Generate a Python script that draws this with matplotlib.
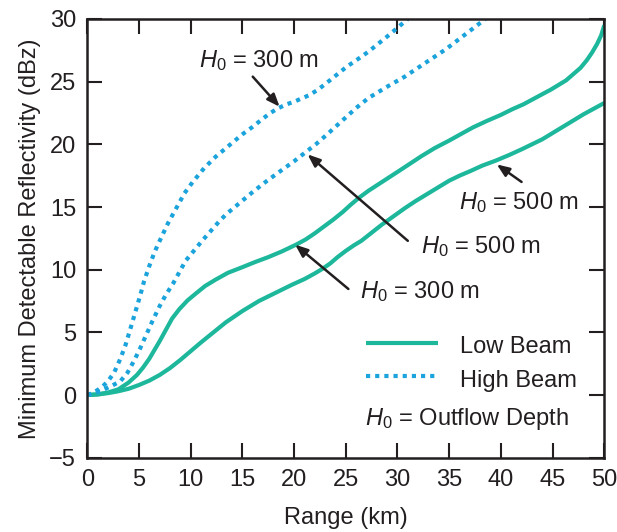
import numpy as np
import matplotlib
matplotlib.use("Agg")
from matplotlib import pyplot as plt

plt.rcParams["font.family"] = ["Liberation Sans", "DejaVu Sans"]
plt.rcParams["mathtext.fontset"] = "custom"
plt.rcParams["mathtext.rm"] = "Liberation Sans"
plt.rcParams["mathtext.it"] = "Liberation Sans:italic"

# low beam, H0 = 300 m (upper solid)
low300_x = [0, 1, 2, 3, 4, 4.8, 5.4, 6, 6.5, 7, 7.6, 8.2, 8.9, 9.7, 10.5, 11.4, 12.4, 13.6,
            15, 16.2, 17.5, 18.8, 20.2, 21.1, 22, 22.9, 23.8, 24.7, 25.5, 26.3, 27.2, 28.6,
            30, 31.2, 32.3, 33.6, 35, 36.2, 37.3, 38.6, 40, 41.1, 42.2, 43.1, 44, 44.8,
            45.5, 46.3, 47, 47.7, 48.3, 48.8, 49.3, 49.7, 50]
low300_y = [0, 0.05, 0.2, 0.45, 1.0, 1.6, 2.2, 2.9, 3.6, 4.3, 5.2, 6.1, 6.85, 7.55, 8.1, 8.7,
            9.2, 9.75, 10.2, 10.6, 11.0, 11.45, 12.0, 12.4, 12.9, 13.45, 14.0, 14.6, 15.2,
            15.75, 16.3, 17.05, 17.8, 18.45, 19.05, 19.7, 20.3, 20.85, 21.35, 21.85, 22.35,
            22.8, 23.2, 23.6, 24.0, 24.35, 24.7, 25.1, 25.6, 26.1, 26.7, 27.3, 28.0, 28.7, 29.5]

# low beam, H0 = 500 m (lower solid)
low500_x = [0, 1, 2, 3, 4, 5, 6, 7, 8, 9, 10, 11, 12.2, 13.4, 15, 16.6, 18.2, 19.8, 21,
            22, 22.8, 23.5, 24.2, 25, 25.8, 26.5, 27.5, 28.5, 29.6, 30.7, 31.8, 33, 34, 35,
            36, 37, 38.2, 39.5, 40.8, 42, 43, 44, 45, 46, 47, 48, 49, 50]
low500_y = [0, 0.05, 0.15, 0.3, 0.5, 0.8, 1.15, 1.6, 2.15, 2.8, 3.5, 4.2, 5.0, 5.8, 6.7, 7.5,
            8.15, 8.8, 9.25, 9.7, 10.1, 10.5, 11.0, 11.5, 11.95, 12.3, 12.95, 13.6, 14.25,
            14.9, 15.5, 16.1, 16.6, 17.1, 17.5, 17.85, 18.3, 18.7, 19.15, 19.6, 20.0, 20.4,
            20.9, 21.4, 21.9, 22.4, 22.85, 23.3]

# high beam, H0 = 300 m (upper dotted)
high300_x = [0, 0.5, 1, 1.5, 2, 2.6, 3.2, 3.7, 4.1, 4.6, 5.1, 5.5, 6.0, 6.5, 7.0, 7.8, 8.6,
             9.4, 10.2, 11.3, 12.4, 13.7, 15, 16, 16.9, 17.7, 18.5, 19.3, 20, 20.7, 21.4,
             22.2, 23, 23.6, 24.2, 25.1, 26, 27.2, 28.1, 29, 30, 31]
high300_y = [0, 0.15, 0.4, 0.7, 1.1, 1.8, 2.9, 4.0, 5.1, 6.5, 7.9, 9.1, 10.3, 11.4, 12.3,
             13.7, 14.9, 16.1, 17.0, 18.1, 19.0, 19.9, 20.8, 21.4, 22.0, 22.5, 22.9, 23.2,
             23.4, 23.65, 23.9, 24.3, 24.8, 25.2, 25.6, 26.2, 26.7, 27.4, 28.0, 28.6, 29.3, 30]

# high beam, H0 = 500 m (lower dotted)
high500_x = [0, 0.8, 1.5, 2.4, 3.2, 3.9, 4.5, 5.1, 5.7, 6.3, 7.0, 7.6, 8.3, 8.9, 9.5, 10.3,
             11.1, 11.9, 12.7, 13.4, 14.7, 16, 17.4, 18.9, 20, 21, 22.1, 23.2, 24, 24.8, 26,
             27.2, 29, 30.7, 32.7, 34.7, 36.6, 38.5]
high500_y = [0, 0.15, 0.4, 0.75, 1.1, 1.8, 2.7, 3.7, 4.8, 5.9, 7.1, 8.0, 8.9, 9.8, 10.7,
             11.5, 12.3, 13.05, 13.8, 14.4, 15.3, 16.2, 17.1, 18.0, 18.65, 19.3, 20.0, 20.8,
             21.4, 22.0, 22.9, 23.7, 24.6, 25.4, 26.5, 27.6, 28.8, 30]

x_ticks = np.arange(0, 51, 5)
y_ticks = np.arange(-5, 31, 5)

teal = "#1db89c"
blue = "#1ba3dc"
ink = "#231f20"
fs = 17

fig = plt.figure(figsize=(6.17, 5.32), dpi=100)
ax = fig.add_axes([0.1415, 0.1397, 0.8379, 0.8246])

lw = 3.0
dots = (0, (1.0, 1.2))
ax.plot(low300_x, low300_y, color=teal, lw=lw, solid_capstyle="butt")
ax.plot(low500_x, low500_y, color=teal, lw=lw, solid_capstyle="butt")
ax.plot(high300_x, high300_y, color=blue, lw=lw, ls=dots, dash_capstyle="butt")
ax.plot(high500_x, high500_y, color=blue, lw=lw, ls=dots, dash_capstyle="butt")

ax.set_xlim(0, 50)
ax.set_ylim(-5, 30)
ax.set_xticks(x_ticks)
ax.set_yticks(y_ticks)
ax.tick_params(direction="in", top=True, right=True, length=11, width=1.5,
               labelsize=fs, colors=ink, pad=8)
for s in ax.spines.values():
    s.set_linewidth(1.8)
    s.set_color(ink)

ax.set_xlabel("Range (km)", fontsize=fs, color=ink, labelpad=12)
ax.set_ylabel("Minimum Detectable Reflectivity (dBz)", fontsize=fs, color=ink, labelpad=6)

arrow = dict(arrowstyle="-|>,head_length=0.75,head_width=0.3", lw=1.8, color=ink,
             shrinkA=0, shrinkB=0)
lab300 = r"$H_\mathrm{0}$ = 300 m"
lab500 = r"$H_\mathrm{0}$ = 500 m"

ax.annotate("", xy=(18.6, 23.0), xytext=(16.0, 25.4), arrowprops=arrow)
ax.text(10.8, 26.2, lab300, fontsize=fs, color=ink, va="baseline")

ax.annotate("", xy=(21.3, 19.2), xytext=(31.0, 12.3), arrowprops=arrow)
ax.text(32.3, 11.35, lab500, fontsize=fs, color=ink, va="baseline")

ax.annotate("", xy=(20.1, 12.0), xytext=(25.25, 8.46), arrowprops=arrow)
ax.text(26.4, 7.75, lab300, fontsize=fs, color=ink, va="baseline")

ax.annotate("", xy=(39.6, 18.4), xytext=(42.0, 17.0), arrowprops=arrow)
ax.text(35.9, 14.8, lab500, fontsize=fs, color=ink, va="baseline")

# legend drawn by hand
ax.plot([27.0, 33.9], [4.17, 4.17], color=teal, lw=lw, solid_capstyle="butt")
ax.plot([27.0, 33.6], [1.53, 1.53], color=blue, lw=lw, ls=dots, dash_capstyle="butt")
ax.text(36.0, 3.32, "Low Beam", fontsize=fs, color=ink, va="baseline")
ax.text(36.0, 0.66, "High Beam", fontsize=fs, color=ink, va="baseline")
ax.text(26.86, -2.4, r"$H_\mathrm{0}$ = Outflow Depth", fontsize=fs, color=ink, va="baseline")

fig.savefig("out.png", dpi=100)
